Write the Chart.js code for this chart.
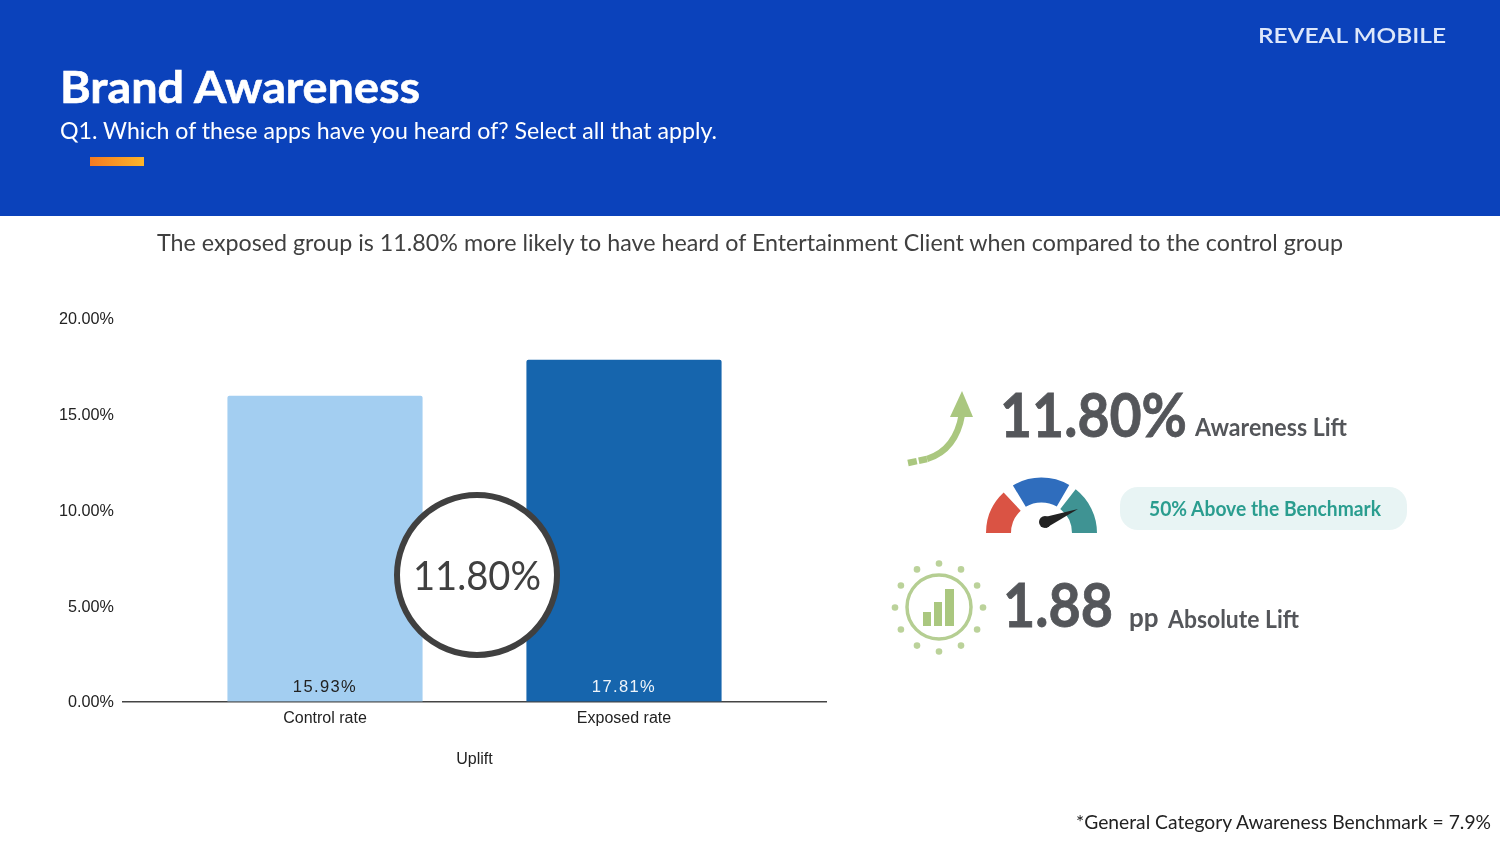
<!DOCTYPE html>
<html>
<head>
<meta charset="utf-8">
<title>Brand Awareness</title>
<script src="https://cdn.jsdelivr.net/npm/chart.js@4"></script>
<style>
    html, body { margin: 0; padding: 0; background: #fff; overflow: hidden; }
    #page { position: relative; width: 1500px; height: 845px; }
    #chartBox { position: absolute; left: 0; top: 290px; width: 860px; height: 490px; }
    #overlay { position: absolute; left: 0; top: 0; }
    text { font-family: Lato, "Open Sans", sans-serif; }
</style>
</head>
<body>
<div id="page">
    <div id="chartBox"><canvas id="myChart"></canvas></div>

    <svg id="overlay" width="1500" height="845" viewBox="0 0 1500 845">
        <defs>
            <linearGradient id="accent">
                <stop offset="0" stop-color="#F47A20"/>
                <stop offset="1" stop-color="#FDB52A"/>
            </linearGradient>
        </defs>

        <!-- header band -->
        <rect x="0" y="0" width="1500" height="216" fill="#0B42BB"/>
        <rect x="90" y="157" width="54" height="9" fill="url(#accent)"/>
        <text x="60" y="103" font-size="43" font-weight="700" fill="#fff" stroke="#fff" stroke-width="0.6" textLength="360" lengthAdjust="spacingAndGlyphs">Brand Awareness</text>
        <text x="60" y="139" font-size="24" fill="#fff" textLength="657" lengthAdjust="spacingAndGlyphs">Q1. Which of these apps have you heard of? Select all that apply.</text>
        <text x="1258" y="43" font-size="21" font-weight="600" fill="#DDE7FA" textLength="188" lengthAdjust="spacingAndGlyphs">REVEAL MOBILE</text>

        <text x="157" y="251" font-size="23" fill="#404040" textLength="1186" lengthAdjust="spacingAndGlyphs">The exposed group is 11.80% more likely to have heard of Entertainment Client when compared to the control group</text>

        <!-- uplift badge over the bars -->
        <circle cx="477" cy="575" r="80" fill="#fff" stroke="#404040" stroke-width="6"/>
        <text x="477" y="590" font-size="41" fill="#404040" text-anchor="middle" textLength="128" lengthAdjust="spacingAndGlyphs">11.80%</text>

        <!-- arrow -->
        <path d="M908 463 L927 459" fill="none" stroke="#AAC77F" stroke-width="6.5" stroke-dasharray="9 2"/>
        <path d="M927 459 Q956 450 962 414" fill="none" stroke="#AAC77F" stroke-width="6.5"/>
        <path d="M962 391 L973 417 L950 417 Z" fill="#AAC77F"/>
        <text x="1000" y="437" font-size="61" font-weight="700" fill="#54565A" stroke="#54565A" stroke-width="0.8" textLength="187" lengthAdjust="spacingAndGlyphs">11.80%</text>
        <text x="1195" y="436" font-size="24" font-weight="700" fill="#54565A" textLength="152" lengthAdjust="spacingAndGlyphs">Awareness Lift</text>

        <!-- gauge -->
        <g id="gauge" fill="none" stroke-width="25"></g>
        <path d="M1045 517 L1078 509 L1046 528 Z" fill="#222"/>
        <circle cx="1045" cy="522" r="6" fill="#222"/>
        <rect x="1120" y="487" width="287" height="43" rx="18" fill="#E8F4F4"/>
        <text x="1265" y="516" font-size="20" font-weight="700" fill="#2A9D8F" text-anchor="middle" textLength="232" lengthAdjust="spacingAndGlyphs">50% Above the Benchmark</text>

        <!-- bars-in-a-ring icon -->
        <g id="dots" fill="#BBD29A"></g>
        <circle cx="939" cy="607" r="32" fill="none" stroke="#B5CE92" stroke-width="3.5"/>
        <rect x="923" y="612" width="8" height="14" fill="#AAC77F"/>
        <rect x="934" y="602" width="8" height="24" fill="#AAC77F"/>
        <rect x="945" y="589" width="9" height="37" fill="#AAC77F"/>
        <text x="1003" y="627" font-size="61" font-weight="700" fill="#54565A" stroke="#54565A" stroke-width="0.8" textLength="110" lengthAdjust="spacingAndGlyphs">1.88</text>
        <text x="1129" y="627" font-size="26" font-weight="700" fill="#54565A">pp</text>
        <text x="1168" y="628" font-size="24" font-weight="700" fill="#54565A" textLength="131" lengthAdjust="spacingAndGlyphs">Absolute Lift</text>

        <text x="1076" y="829" font-size="20" fill="#222" textLength="415" lengthAdjust="spacingAndGlyphs">*General Category Awareness Benchmark = 7.9%</text>
    </svg>
</div>

<script>
const categories = ["Control rate", "Exposed rate"];
const rates = [15.93, 17.81];
const rateLabels = ["15.93%", "17.81%"];
const barColors = ["#A3CEF1", "#1665AD"];
const labelColors = ["#222222", "#EEF4FA"];
const axisMax = 20;
const axisStep = 5;

// value labels sit just above the baseline, inside each bar
const barLabels = {
    id: "barLabels",
    afterDatasetsDraw(chart) {
        const ctx = chart.ctx;
        const bars = chart.getDatasetMeta(0).data;
        ctx.save();
        ctx.font = "16.5px 'Liberation Sans'";
        ctx.letterSpacing = "1.4px";
        ctx.textAlign = "center";
        ctx.textBaseline = "middle";
        bars.forEach(function(bar, i) {
            ctx.fillStyle = labelColors[i];
            ctx.fillText(rateLabels[i], bar.x, chart.scales.y.bottom - 14);
        });
        ctx.restore();
    }
};

const ctx = document.getElementById("myChart").getContext("2d");
const myChart = new Chart(ctx, {
    type: "bar",
    plugins: [barLabels],
    data: {
        datasets: [
            {
                data: rates.map(function(r, i) { return { x: i, y: r }; }),
                backgroundColor: barColors,
                barThickness: 194.5,
                borderRadius: { topLeft: 2, topRight: 2 },
                borderSkipped: "bottom"
            }
        ]
    },
    options: {
        responsive: true,
        maintainAspectRatio: false,
        animation: false,
        layout: { padding: { top: 28, right: 34, left: 0, bottom: 0 } },
        plugins: { legend: { display: false }, tooltip: { enabled: false } },
        scales: {
            x: {
                type: "linear",
                offset: false,
                min: -0.6756,
                max: 1.6756,
                grid: { display: false },
                border: { color: "#444", width: 1.5 },
                afterFit(scale) { scale.height = 78.5; },
                title: {
                    display: true,
                    text: "Uplift",
                    color: "#222",
                    font: { family: "'Liberation Sans'", size: 16 },
                    padding: { top: 18, bottom: 11 }
                },
                ticks: {
                    stepSize: 1,
                    includeBounds: false,
                    maxRotation: 0,
                    color: "#222",
                    font: { family: "'Liberation Sans'", size: 16 },
                    padding: -1,
                    callback: function(v) { return categories[v]; }
                }
            },
            y: {
                min: 0,
                max: axisMax,
                grid: { display: false },
                border: { display: false },
                afterFit(scale) { scale.width = 123; },
                ticks: {
                    stepSize: axisStep,
                    color: "#222",
                    font: { family: "'Liberation Sans'", size: 16.2 },
                    padding: 1,
                    labelOffset: 1.5,
                    callback: function(v) { return v.toFixed(2) + "%"; }
                }
            }
        }
    }
});

// decorative icons: gauge segments and the ring of dots
const svgNS = "http://www.w3.org/2000/svg";
const gauge = document.getElementById("gauge");
function addArc(from, to, color) {
    const cx = 1041.5, cy = 533, r = 43;
    const a = from * Math.PI / 180, b = to * Math.PI / 180;
    const p = document.createElementNS(svgNS, "path");
    p.setAttribute("d", "M" + (cx + r * Math.cos(a)) + " " + (cy - r * Math.sin(a)) +
        " A" + r + " " + r + " 0 0 1 " + (cx + r * Math.cos(b)) + " " + (cy - r * Math.sin(b)));
    p.setAttribute("stroke", color);
    gauge.appendChild(p);
}
addArc(180, 133, "#DA5344");
addArc(121, 60, "#2F6DBD");
addArc(52, 0, "#3F9393");

const dots = document.getElementById("dots");
for (let i = 0; i < 12; i++) {
    const a = i * Math.PI / 6;
    const c = document.createElementNS(svgNS, "circle");
    c.setAttribute("cx", 939 + 44 * Math.cos(a));
    c.setAttribute("cy", 607.5 + 44 * Math.sin(a));
    c.setAttribute("r", 3.3);
    dots.appendChild(c);
}
</script>
</body>
</html>
